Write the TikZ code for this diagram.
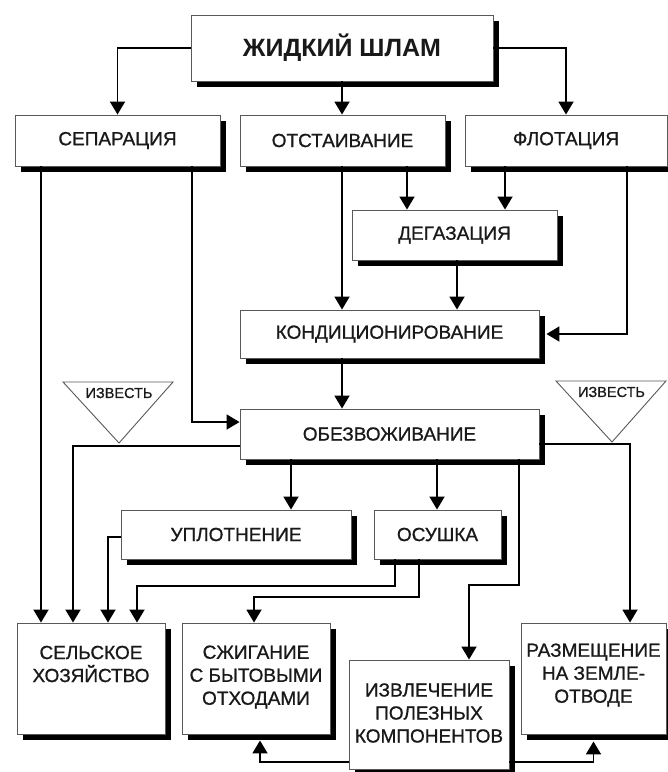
\documentclass[tikz,border=0pt]{standalone}
\usepackage{fontspec}
\setmainfont{Liberation Sans}
\newfontfamily\medfont[FakeBold=0.9]{Liberation Sans}
\usetikzlibrary{arrows.meta,shadows}
\begin{document}
\begin{tikzpicture}[x=1pt,y=-1pt,
  bx/.style={draw=black!65, line width=0.9pt, fill=white, inner sep=0pt,
    general shadow={fill=black, shadow xshift=6pt, shadow yshift=-6pt},
    font=\medfont\fontsize{19}{23}\selectfont, align=center, text=black!90},
  lbl/.style={inner sep=0pt, font=\medfont\fontsize{19}{23}\selectfont, align=center, text=black!90},
  arr/.style={line width=1.9pt, -{Triangle[width=15pt,length=13pt]}},
  tri/.style={draw=black!65, line width=0.9pt, fill=white},
  small/.style={inner sep=0pt, font=\medfont\fontsize{14.5}{16}\selectfont, text=black!90}]
\useasboundingbox[fill=white] (0,0) rectangle (668,772);

% boxes
\node[bx, minimum width=302pt, minimum height=66pt, font=\fontsize{25}{30}\bfseries\selectfont] (shlam) at (342,48) {ЖИДКИЙ ШЛАМ};
\node[bx, minimum width=205pt, minimum height=51pt] (sep) at (117.5,140.5) {СЕПАРАЦИЯ};
\node[bx, minimum width=205pt, minimum height=51pt] (otst) at (342.5,140.5) {ОТСТАИВАНИЕ};
\node[bx, minimum width=202pt, minimum height=51pt] (flot) at (566,140.5) {ФЛОТАЦИЯ};
\node[bx, minimum width=205pt, minimum height=50pt] (degaz) at (454.5,235) {ДЕГАЗАЦИЯ};
\node[bx, minimum width=299pt, minimum height=48pt] (kond) at (389.5,334) {КОНДИЦИОНИРОВАНИЕ};
\node[bx, minimum width=299pt, minimum height=50pt] (obez) at (389.5,434) {ОБЕЗВОЖИВАНИЕ};
\node[bx, minimum width=230pt, minimum height=49pt] (upl) at (236,534.5) {УПЛОТНЕНИЕ};
\node[bx, minimum width=127pt, minimum height=49pt] (osush) at (437.5,534.5) {ОСУШКА};
\node[bx, minimum width=148pt, minimum height=111pt] (selsk) at (91,678.5) {};
\node[bx, minimum width=148pt, minimum height=111pt] (szhig) at (256,678.5) {};
\node[bx, minimum width=160pt, minimum height=109pt] (izvl) at (429,714.5) {};
\node[bx, minimum width=145pt, minimum height=111pt] (razm) at (593.5,678.5) {};

\node[lbl] (selskT) at (91,664) {СЕЛЬСКОЕ\\ХОЗЯЙСТВО};
\node[lbl] (szhigT) at (256,677) {СЖИГАНИЕ\\С БЫТОВЫМИ\\ОТХОДАМИ};
\node[lbl] (izvlT) at (429,713) {ИЗВЛЕЧЕНИЕ\\ПОЛЕЗНЫХ\\КОМПОНЕНТОВ};
\node[lbl] (razmT) at (593.5,675) {РАЗМЕЩЕНИЕ\\НА ЗЕМЛЕ-\\ОТВОДЕ};

% lime triangles
\draw[tri] (63,382) -- (173,382) -- (119,443) -- cycle;
\node[small] (lime1) at (119,393) {ИЗВЕСТЬ};
\draw[tri] (556,381) -- (666,381) -- (612,442) -- cycle;
\node[small] (lime2) at (611.5,392) {ИЗВЕСТЬ};

% shadow-edge coordinates
\coordinate (kondE) at ([xshift=7pt]kond.east);
\coordinate (szhigB) at ([xshift=4pt,yshift=-6pt]szhig.south);
\coordinate (razmB) at ([yshift=-7pt]razm.south);

% connectors
\draw[arr] (shlam.west) -| (sep.north);
\draw[arr] (shlam.south) -- (shlam.south |- otst.north);
\draw[arr] (shlam.east) -| (flot.north);

\draw[arr] (41,0 |- sep.south) -- (41,0 |- selsk.north);
\draw[arr] (192,0 |- sep.south) |- (obez.west |- 0,422);

\draw[arr] (342,0 |- otst.south) -- (342,0 |- kond.north);
\draw[arr] (407,0 |- otst.south) -- (407,0 |- degaz.north);
\draw[arr] (505,0 |- flot.south) -- (505,0 |- degaz.north);
\draw[arr] (627,0 |- flot.south) |- (kondE);
\draw[arr] (457,0 |- degaz.south) -- (457,0 |- kond.north);
\draw[arr] (342,0 |- kond.south) -- (342,0 |- obez.north);

\draw[arr] (obez.west |- 0,446) -| (73,0 |- selsk.north);
\draw[arr] (obez.east |- 0,444) -| (630,0 |- razm.north);
\draw[arr] (519,0 |- obez.south) |- (469,585) -- (469,0 |- izvl.north);
\draw[arr] (291,0 |- obez.south) -- (291,0 |- upl.north);
\draw[arr] (437,0 |- obez.south) -- (437,0 |- osush.north);

\draw[arr] (upl.west |- 0,537) -| (108,0 |- selsk.north);
\draw[arr] (395,0 |- osush.south) |- (137,586) -- (137,0 |- selsk.north);
\draw[arr] (419,0 |- osush.south) |- (254,597) -- (254,0 |- szhig.north);

\draw[arr] (izvl.west |- 0,762) -| (szhigB);
\draw[arr] (izvl.east |- 0,762) -| (razmB);
\end{tikzpicture}
\end{document}
